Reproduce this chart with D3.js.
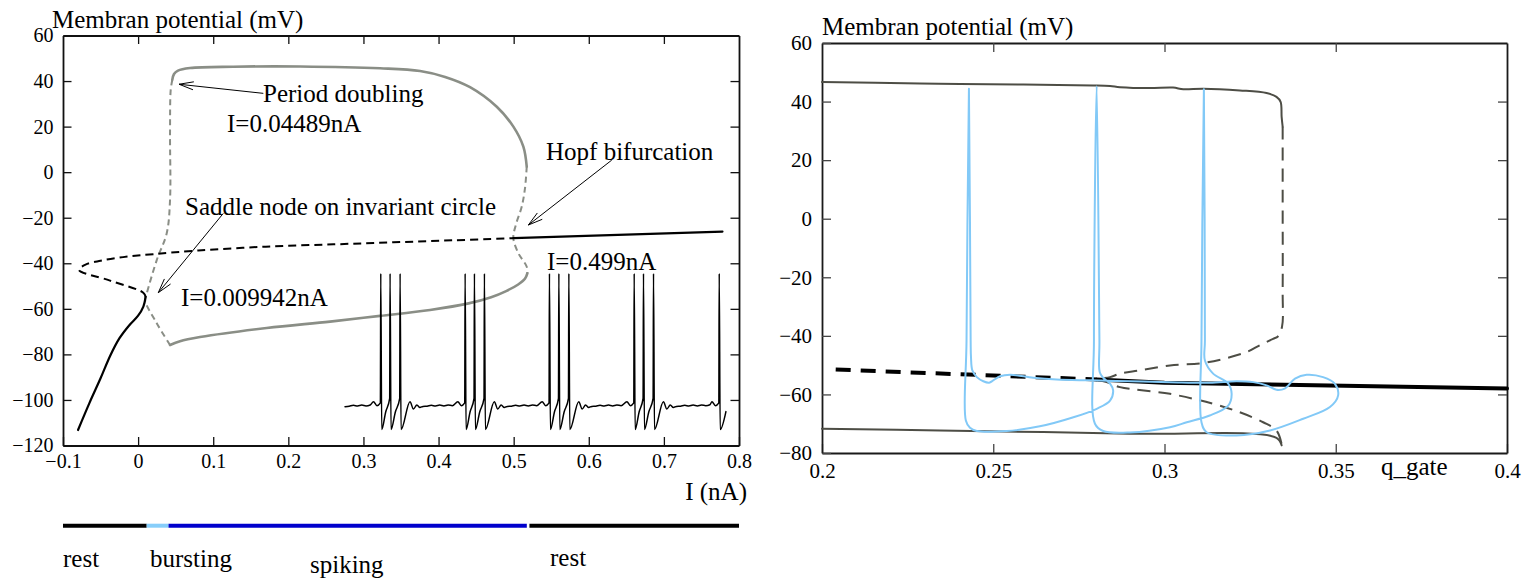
<!DOCTYPE html>
<html>
<head>
<meta charset="utf-8">
<script src="https://cdn.jsdelivr.net/npm/d3@7"></script>
<style>
  html, body { margin: 0; padding: 0; background: #fff; }
  svg { display: block; }
  text { font-family: "Liberation Serif", "Times New Roman", serif; fill: #000; }
</style>
</head>
<body>
<svg id="chart" width="1530" height="579"></svg>
<script>
// ---------------- Left panel: bifurcation diagram, V vs injected current I (nA) ----------------
const xTicksL = [-0.1, 0, 0.1, 0.2, 0.3, 0.4, 0.5, 0.6, 0.7, 0.8];
const xTickLabelsL = ["\u22120.1", "0", "0.1", "0.2", "0.3", "0.4", "0.5", "0.6", "0.7", "0.8"];
const yTicksL = [-120, -100, -80, -60, -40, -20, 0, 20, 40, 60];
const yTickLabelsL = ["\u2212120", "\u2212100", "\u221280", "\u221260", "\u221240", "\u221220", "0", "20", "40", "60"];

// stable rest state, low branch [I, V]
const restLow = [[-0.080, -113.2], [-0.065, -101.5], [-0.050, -90.5], [-0.037, -80.5],
  [-0.025, -73.0], [-0.012, -67.3], [0.000, -63.0], [0.007, -59.0], [0.0101, -54.7]];
// unstable equilibria: from the saddle-node back to the fold, then up to the Hopf point
const unstableEq = [[0.0101, -54.7], [0.0069, -52.9], [-0.0374, -47.6], [-0.0787, -42.9],
  [-0.070, -40.6], [-0.050, -38.9], [-0.020, -37.3], [0.020, -36.0], [0.080, -34.4],
  [0.170, -32.7], [0.260, -31.7], [0.340, -30.8], [0.420, -29.9], [0.4996, -29.0]];
// stable rest state after the Hopf bifurcation
const restHigh = [[0.4996, -29.0], [0.778, -26.1]];

// periodic orbit extrema
const cycleLeftUnstable = [[0.0425, -75.9], [0.0248, -66.3], [0.0092, -56.1], [0.0115, -53.2],
  [0.0248, -38.6], [0.0381, -26.8], [0.0425, -12.2], [0.0425, 17.1], [0.0434, 36.1], [0.0455, 40.5]];
const cycleMax = [[0.0455, 40.5], [0.0478, 43.1], [0.0531, 44.6], [0.0691, 45.7], [0.1264, 46.3],
  [0.2156, 46.4], [0.3221, 45.6], [0.3754, 44.4], [0.4087, 41.8], [0.4419, 37.3], [0.4775, 28.7],
  [0.4996, 20.0], [0.5129, 11.2], [0.5174, 2.4]];
const cycleRightUnstable = [[0.5174, 2.4], [0.5151, -7.0], [0.5107, -15.2], [0.5030, -23.0],
  [0.4996, -29.0], [0.5063, -35.6], [0.5174, -41.5], [0.5182, -44.4]];
const cycleMin = [[0.5182, -44.4], [0.5150, -46.8], [0.5060, -49.3], [0.4900, -52.2],
  [0.4700, -54.9], [0.4400, -57.6], [0.3887, -60.5], [0.3221, -63.1], [0.2555, -65.6],
  [0.1712, -68.4], [0.0824, -72.4], [0.0558, -74.2], [0.0425, -75.9]];

// annotation arrows: tail and tip [I, V]
const pdArrow = [[0.1667, 34.6], [0.0545, 38.6]];
const snicArrow = [[0.1134, -18.1], [0.0269, -52.9]];
const hopfArrow = [[0.6306, 5.3], [0.5196, -23.2]];

// inset voltage trace (time in ms, membrane potential in mV)
const burstSpikeTimes = [[93.7, 118.1, 144.4], [315, 339.4, 365.6], [536.2, 560.9, 587.1],
  [758.5, 782.9, 809.2], [981.6]];
const preBurstShape = [[-19, -53.6], [-10, -56.6], [-1, -54.5]];
const recoveryShape = [[2.5, -75], [26, -53.6], [35, -59.2], [44, -56.1], [52, -58.0], [60, -57.2]];
const baselineRipple = [-57.0, -56.4, -56.9, -56.2, -56.8, -56.1, -56.6, -55.9, -56.5];
const spikePeakV = 45, spikeTroughV = -75, rampMidV = -61.5, rampTopV = -51;
const traceStartV = -57.4;
const traceEnd = [999.2, -61.2];

// firing regimes along the current axis
const regimeNames = ["rest", "bursting", "spiking", "rest"];
const regimeStart = [-0.1, 0.0114, 0.0405, 0.521];
const regimeEnd = [0.0114, 0.0405, 0.5175, 0.8];

// ---------------- Right panel: phase plane, V vs q_gate ----------------
const xTicksR = [0.2, 0.25, 0.3, 0.35, 0.4];
const xTickLabelsR = ["0.2", "0.25", "0.3", "0.35", "0.4"];
const yTicksR = [-80, -60, -40, -20, 0, 20, 40, 60];
const yTickLabelsR = ["\u221280", "\u221260", "\u221240", "\u221220", "0", "20", "40", "60"];

const eqUnstableR = [[0.204, -51.5], [0.2802, -54.9]];
const eqStableR = [[0.2802, -54.9], [0.3, -56.0], [0.4, -58.0]];
const orbitMaxR = [[0.2, 46.7], [0.2286, 46.2], [0.2403, 46.0], [0.2792, 45.5], [0.2841, 45.3],
  [0.2870, 44.9], [0.2957, 44.6], [0.3025, 44.8], [0.3055, 44.2], [0.3113, 44.4], [0.3220, 43.8],
  [0.3298, 42.9], [0.3327, 41.6], [0.3339, 39.9], [0.3342, 34.8], [0.3345, 31.4]];
const orbitUnstableR = [[0.3345, 31.4], [0.3345, 6.3], [0.3345, -24.4], [0.3343, -37.0],
  [0.3331, -40.2], [0.3317, -41.0], [0.3278, -43.2], [0.3240, -45.5], [0.3123, -49.1],
  [0.3016, -50.1], [0.2928, -51.8], [0.2870, -52.9], [0.2841, -54.1], [0.2802, -54.9],
  [0.2831, -55.8], [0.2870, -57.5], [0.3016, -59.8], [0.3142, -63.2], [0.3220, -66.1],
  [0.3288, -69.5], [0.3327, -72.3], [0.3342, -76.9]];
const orbitMinR = [[0.2, -71.7], [0.2344, -72.3], [0.2899, -73.4], [0.3327, -74.8], [0.3342, -77.4]];

// bursting trajectory (closed loop in the (q, V) plane)
const burstLoop = [
  [0.2439, -51.8], [0.2435, -47.2], [0.2434, -41.5], [0.2429, 44.4], [0.2422, -41.5],
  [0.2420, -68.9], [0.2432, -71.4], [0.2452, -72.5], [0.2539, -72.5], [0.2636, -70.9],
  [0.2734, -67.8], [0.2802, -64.9], [0.2841, -62.1], [0.2850, -58.6], [0.2841, -56.3],
  [0.2821, -54.3], [0.2811, -52.4], [0.2810, -41.5], [0.2802, 45.3], [0.2794, -41.5],
  [0.2797, -70.0], [0.2821, -72.5], [0.2899, -73.0], [0.3016, -71.2], [0.3065, -69.5],
  [0.3132, -67.2], [0.3186, -63.8], [0.3196, -59.8], [0.3186, -56.3], [0.3142, -52.9],
  [0.3118, -48.4], [0.3118, -41.5], [0.3115, 44.2], [0.3108, -41.5], [0.3108, -69.5],
  [0.3123, -72.9], [0.3210, -74.0], [0.3308, -72.3], [0.3405, -68.3], [0.3483, -64.3],
  [0.3507, -60.3], [0.3497, -56.3], [0.3463, -54.1], [0.3415, -53.3], [0.3381, -54.6],
  [0.3351, -58.0], [0.3327, -58.4], [0.3298, -56.9], [0.3259, -55.8], [0.3210, -55.5],
  [0.3132, -56.0], [0.3016, -55.8], [0.2899, -55.5], [0.2782, -55.2], [0.2685, -54.9],
  [0.2617, -54.3], [0.2549, -53.3], [0.2520, -53.8], [0.2500, -55.2], [0.2488, -56.0],
  [0.2471, -55.5], [0.2452, -54.1]];

// ---------------- drawing ----------------
const svg = d3.select("#chart");
svg.append("rect").attr("width", 1530).attr("height", 579).attr("fill", "#fff");

const grayL = "#8a8e86";
const grayR = "#4d4d45";
const skyBlue = "#82c9f7";
const regimeColor = { rest: "#000", bursting: "#87cefa", spiking: "#0000cc" };

const xL = d3.scaleLinear([-0.1, 0.8], [63, 739]);
const yL = d3.scaleLinear([-120, 60], [445.5, 35.5]);
const xR = d3.scaleLinear([0.2, 0.4], [822, 1507]);
const yR = d3.scaleLinear([-80, 60], [453, 43]);

function drawFrame(x, y, xt, xl, yt, yl, opts) {
  const g = svg.append("g");
  const [bx, tx] = [y.range()[0], y.range()[1]];
  const [lx, rx] = x.range();
  const style = sel => {
    sel.selectAll(".domain").attr("stroke", opts.frame).attr("stroke-width", 1.8);
    sel.selectAll(".tick line").attr("stroke", opts.tick).attr("stroke-width", 1.3);
    sel.selectAll("text").attr("font-family", "Liberation Serif, Times New Roman, serif")
      .attr("font-size", opts.font).attr("fill", "#000");
    sel.attr("font-family", null).attr("font-size", null);
  };
  g.append("g").attr("transform", `translate(0,${bx})`)
    .call(d3.axisBottom(x).tickValues(xt).tickFormat((d, i) => xl[i])
      .tickSizeInner(-opts.tickLen).tickSizeOuter(0).tickPadding(opts.padX)).call(style);
  g.append("g").attr("transform", `translate(0,${tx})`)
    .call(d3.axisTop(x).tickValues(xt.slice(1, -1)).tickFormat("")
      .tickSizeInner(-opts.tickLen).tickSizeOuter(0)).call(style);
  g.append("g").attr("transform", `translate(${lx},0)`)
    .call(d3.axisLeft(y).tickValues(yt).tickFormat((d, i) => yl[i])
      .tickSizeInner(-opts.tickLen).tickSizeOuter(0).tickPadding(opts.padY)).call(style);
  g.append("g").attr("transform", `translate(${rx},0)`)
    .call(d3.axisRight(y).tickValues(yt.slice(1, -1)).tickFormat("")
      .tickSizeInner(-opts.tickLen).tickSizeOuter(0)).call(style);
  return g;
}

function curve(x, y, data, color, width, dash, curveType) {
  const line = d3.line().x(d => x(d[0])).y(d => y(d[1]))
    .curve(curveType || d3.curveCatmullRom.alpha(0.5));
  svg.append("path").datum(data).attr("d", line).attr("fill", "none")
    .attr("stroke", color).attr("stroke-width", width)
    .attr("stroke-dasharray", dash || null)
    .attr("stroke-linejoin", "round").attr("stroke-linecap", dash ? "butt" : "round");
}

function arrow(x, y, pair) {
  const [x1, y1] = [x(pair[0][0]), y(pair[0][1])];
  const [x2, y2] = [x(pair[1][0]), y(pair[1][1])];
  const a = Math.atan2(y2 - y1, x2 - x1), L = 15, h = 0.27;
  const p1 = [x2 - L * Math.cos(a - h), y2 - L * Math.sin(a - h)];
  const p2 = [x2 - L * Math.cos(a + h), y2 - L * Math.sin(a + h)];
  svg.append("line").attr("x1", x1).attr("y1", y1).attr("x2", x2).attr("y2", y2)
    .attr("stroke", "#000").attr("stroke-width", 1);
  svg.append("path").attr("d", `M${p1}L${x2},${y2}L${p2}`).attr("fill", "none")
    .attr("stroke", "#000").attr("stroke-width", 1);
}

function label(x, y, txt, size, anchor) {
  svg.append("text").attr("x", x).attr("y", y).attr("font-size", size)
    .attr("text-anchor", anchor || "start").text(txt);
}

// ---- left panel ----
drawFrame(xL, yL, xTicksL, xTickLabelsL, yTicksL, yTickLabelsL,
  { frame: "#111", tick: "#111", font: 20, tickLen: 8.5, padX: 8, padY: 9.5 });

curve(xL, yL, cycleLeftUnstable, grayL, 2, "6,4");
curve(xL, yL, cycleRightUnstable, grayL, 2, "6,4");
curve(xL, yL, cycleMax, grayL, 2.6);
curve(xL, yL, cycleMin, grayL, 2.6);
curve(xL, yL, unstableEq, "#000", 2, "8,5");
curve(xL, yL, restLow, "#000", 2.2);
curve(xL, yL, restHigh, "#000", 2.2, null, d3.curveLinear);

// inset: bursting voltage trace
function buildTrace() {
  const pts = [[0, traceStartV]];
  let t = 0;
  burstSpikeTimes.forEach(burst => {
    const first = burst[0];
    let k = 0;
    for (let s = t + 11; s < first - 24; s += 11) pts.push([s, baselineRipple[k++ % baselineRipple.length]]);
    preBurstShape.forEach(([dt, v]) => pts.push([first + dt, v]));
    burst.forEach((ts, i) => {
      pts.push([ts, spikePeakV]);
      pts.push([ts + 2.5, spikeTroughV]);
      const next = burst[i + 1];
      if (next !== undefined) {
        pts.push([(ts + 2.5 + next - 1) / 2, rampMidV]);
        pts.push([next - 1, rampTopV]);
      }
    });
    const last = burst[burst.length - 1];
    recoveryShape.slice(1).forEach(([dt, v]) => pts.push([last + dt, v]));
    t = last + recoveryShape[recoveryShape.length - 1][0];
  });
  return pts.filter(p => p[0] < traceEnd[0]).concat([traceEnd]);
}
const insetT = d3.scaleLinear([0, 1000], [xL(0.2755), xL(0.783)]);
const insetV = d3.scaleLinear([-75, 45], [yL(-113), yL(-44.5)]);
curve(insetT, insetV, buildTrace(), "#000", 1.5, null, d3.curveMonotoneX);

// annotations
arrow(xL, yL, pdArrow);
arrow(xL, yL, snicArrow);
arrow(xL, yL, hopfArrow);
label(263, 102, "Period doubling", 25);
label(227, 132, "I=0.04489nA", 25);
label(185, 215, "Saddle node on invariant circle", 25);
label(181, 306, "I=0.009942nA", 25);
label(546, 160, "Hopf bifurcation", 25);
label(547, 270, "I=0.499nA", 25);
label(52, 28, "Membran potential (mV)", 25);
label(747, 500, "I (nA)", 25, "end");

// regime bar
regimeNames.forEach((name, i) => {
  svg.append("line").attr("x1", xL(regimeStart[i])).attr("x2", xL(regimeEnd[i]))
    .attr("y1", 525.7).attr("y2", 525.7)
    .attr("stroke", regimeColor[name]).attr("stroke-width", 4);
});
const regimeLabelPos = [[63, 567], [150, 567], [310, 573], [550, 566]];
regimeNames.forEach((name, i) => label(regimeLabelPos[i][0], regimeLabelPos[i][1], name, 25));

// ---- right panel ----
drawFrame(xR, yR, xTicksR, xTickLabelsR, yTicksR, yTickLabelsR,
  { frame: "#1a1a1a", tick: "#444", font: 21, tickLen: 9, padX: 10, padY: 10 });

curve(xR, yR, orbitMinR, grayR, 2);
curve(xR, yR, orbitMaxR, grayR, 2);
curve(xR, yR, orbitUnstableR, grayR, 2, "13,8");
curve(xR, yR, eqUnstableR, "#000", 4, "15,10", d3.curveLinear);
curve(xR, yR, eqStableR, "#000", 4, null, d3.curveLinear);
curve(xR, yR, burstLoop, skyBlue, 2, null, d3.curveCatmullRomClosed.alpha(0.5));

label(822, 35, "Membran potential (mV)", 25);
label(1381, 475, "q_gate", 25);
</script>
</body>
</html>
